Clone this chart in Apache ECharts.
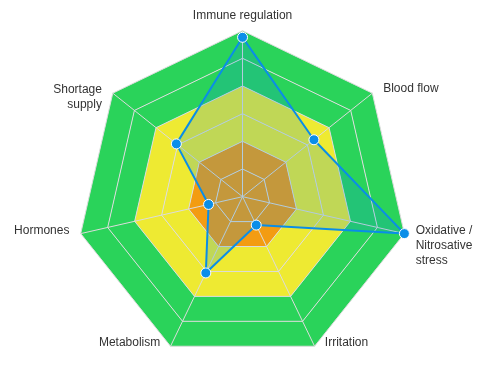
<!DOCTYPE html>
<html>
<head>
<meta charset="utf-8">
<script src="https://cdn.jsdelivr.net/npm/echarts@6/dist/echarts.min.js"></script>
<style>html,body{margin:0;padding:0;background:#fff}#c{width:490px;height:369px}</style>
</head>
<body>
<div id="c"></div>
<script>
// Indicators listed counter-clockwise from the top (ECharts radar order)
const indicatorNames = ['Immune regulation', 'Shortage\nsupply', 'Hormones', 'Metabolism', 'Irritation', 'Oxidative /\nNitrosative\nstress', 'Blood flow'];
const indicatorMax = [100, 100, 100, 100, 100, 100, 100];
const seriesValues = [96, 51, 21, 51, 19, 100, 55];
const bandColors = ['#f39c12', '#f39c12', '#eeea32', '#eeea32', '#2ad35a', '#2ad35a'];

// label nudges (style only): horizontal padding and vertical spacer
const labelPad = [
  {pad: [0, 0, 0, 0], top: 0, bottom: 0},
  {pad: [0, 5, 0, 0], top: 18, bottom: 0},
  {pad: [0, 4, 0, 0], top: 0, bottom: 10},
  {pad: [0, 7, 0, 0], top: 0, bottom: 20},
  {pad: [0, 0, 0, 7], top: 0, bottom: 20},
  {pad: [0, 0, 0, 4], top: 20, bottom: 0},
  {pad: [0, 0, 0, 5], top: 0, bottom: 0}
];
const rich = {};
labelPad.forEach((p, i) => {
  rich['t' + i] = {padding: p.pad, lineHeight: 15, fontSize: 12, color: '#333', fontFamily: 'Liberation Sans, Arial, sans-serif'};
  rich['a' + i] = {lineHeight: p.top || 1, fontSize: 1};
  rich['b' + i] = {lineHeight: p.bottom || 1, fontSize: 1};
});

const chart = echarts.init(document.getElementById('c'), null, {renderer: 'canvas'});
chart.setOption({
  animation: false,
  radar: {
    center: ['49.5%', '53.3%'],
    radius: 166,
    splitNumber: 6,
    shape: 'polygon',
    indicator: indicatorNames.map((n, i) => ({name: n, max: indicatorMax[i], min: 0})),
    axisName: {
      color: '#333',
      fontSize: 12,
      fontFamily: 'Liberation Sans, Arial, sans-serif',
      lineHeight: 15,
      formatter: function (name) {
        const i = indicatorNames.indexOf(name);
        const p = labelPad[i];
        let lines = name.split('\n').map(l => '{t' + i + '|' + l + '}');
        if (p.top) lines.unshift('{a' + i + '|\u00a0}');
        if (p.bottom) lines.push('{b' + i + '|\u00a0}');
        return lines.join('\n');
      },
      rich: rich
    },
    nameGap: 7.5,
    splitArea: {show: true, areaStyle: {color: bandColors}},
    splitLine: {lineStyle: {color: '#dcdcdc', width: 1}},
    axisLine: {lineStyle: {color: '#dcdcdc', width: 1}}
  },
  series: [{
    type: 'radar',
    symbol: 'circle',
    symbolSize: 10,
    lineStyle: {color: '#0a8ee8', width: 2},
    itemStyle: {color: '#0a8ee8', borderColor: '#fff', borderWidth: 1},
    areaStyle: {color: '#0a8ee8', opacity: 0.2},
    data: [{value: seriesValues, name: 'Stress'}]
  }]
});
</script>
</body>
</html>
